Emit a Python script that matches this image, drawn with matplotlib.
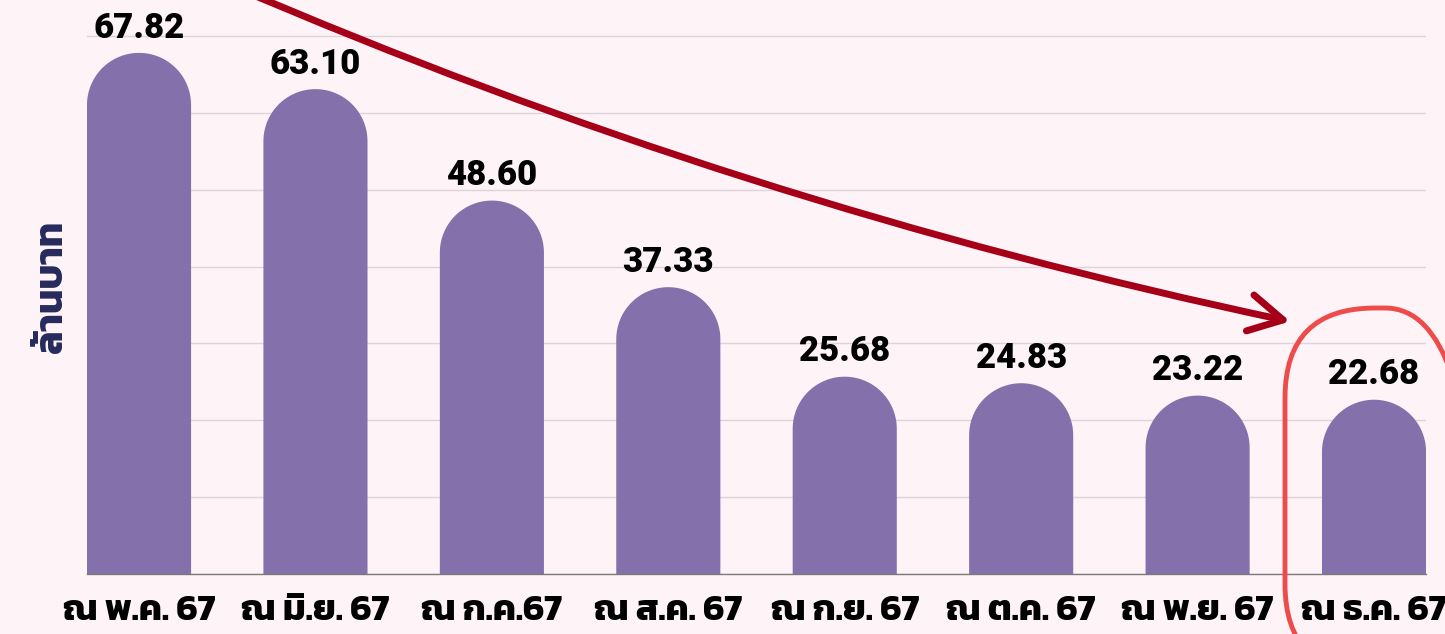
import numpy as np
import matplotlib
matplotlib.use("Agg")
import matplotlib.pyplot as plt
from matplotlib import font_manager as fm
from matplotlib.ft2font import FT2Font
from matplotlib.patches import Polygon, FancyArrowPatch, FancyBboxPatch

months = ["ณ พ.ค. 67", "ณ มิ.ย. 67", "ณ ก.ค.67", "ณ ส.ค. 67",
          "ณ ก.ย. 67", "ณ ต.ค. 67", "ณ พ.ย. 67", "ณ ธ.ค. 67"]
values = [67.82, 63.10, 48.60, 37.33, 25.68, 24.83, 23.22, 22.68]
y_label = "ล้านบาท"

BG = "#FEF3F7"
BAR = "#8470AA"


def thai_family():
    # หา font ที่มี glyph ภาษาไทย (เลือกตัวหนาก่อน)
    best = None
    for f in fm.fontManager.ttflist:
        try:
            cmap = FT2Font(f.fname).get_charmap()
        except Exception:
            continue
        if ord("ณ") in cmap:
            w = f.weight if isinstance(f.weight, int) else 400
            if best is None or w > best[1]:
                best = (f.name, w)
    return best[0] if best else "DejaVu Sans"


TH = [thai_family(), "DejaVu Sans"]

fig = plt.figure(figsize=(14.45, 6.34), dpi=100, facecolor=BG)
ax = fig.add_axes([0.0602, 0.0946, 0.9267, 0.9054], facecolor=BG)

x = np.arange(len(values))
w = 0.59
ax.set_xlim(-w / 2, len(values) - 1 + w / 2)
ax.set_ylim(0, 74.7)

# รัศมีหัวมน (วงกลมในหน่วย pixel) แปลงกลับเป็นหน่วยข้อมูล
p0 = ax.transData.transform((0, 0))
p1 = ax.transData.transform((w, 1))
r_px = (p1[0] - p0[0]) / 2
r_y = r_px / (p1[1] - p0[1])

t = np.linspace(np.pi, 0, 60)
for xi, v in zip(x, values):
    top = v - r_y
    pts = [(xi - w / 2, 0), (xi - w / 2, top)]
    pts += list(zip(xi + w / 2 * np.cos(t), top + r_y * np.sin(t)))
    pts += [(xi + w / 2, 0)]
    ax.add_patch(Polygon(pts, closed=True, fc=BAR, ec="none", zorder=2))
    ax.annotate(f"{v:.2f}", (xi, v), xytext=(0, 6), textcoords="offset points",
                ha="center", va="bottom", fontsize=25, fontweight="black",
                family="Roboto", color="black")

ax.set_yticks(np.arange(0, 71, 10))
ax.yaxis.grid(True, color="#DDD3D9", lw=1, zorder=0)
ax.set_axisbelow(True)
ax.tick_params(axis="y", length=0, labelleft=False)
ax.set_xticks(x)
ax.set_xticklabels(months, fontsize=26, fontweight="bold", family=TH, color="black")
ax.tick_params(axis="x", length=0, pad=15)
for s in ["top", "right", "left"]:
    ax.spines[s].set_visible(False)
ax.spines["bottom"].set_color("#7a7a7a")
ax.spines["bottom"].set_linewidth(1)
ax.set_ylabel(y_label, fontsize=28, fontweight="bold", family=TH, color="#262A5C", labelpad=12)

# ลูกศรแนวโน้มลดลง
arrow = FancyArrowPatch((0.48, 77.0), (6.54, 32.8), connectionstyle="arc3,rad=0.05",
                        arrowstyle="->,head_length=1.1,head_width=0.6",
                        color="#A50018", lw=5, mutation_scale=22, zorder=3,
                        capstyle="round", joinstyle="round")
ax.add_patch(arrow)

# กรอบเน้นเดือนล่าสุด
box = FancyBboxPatch((12.85, -0.4), 1.9, 3.66, boxstyle="round,pad=0,rounding_size=0.9",
                     transform=fig.dpi_scale_trans, fill=False, ec="#EE4C4A", lw=3.5,
                     clip_on=False, zorder=5)
fig.add_artist(box)

fig.savefig("out.png", dpi=100, facecolor=BG)
